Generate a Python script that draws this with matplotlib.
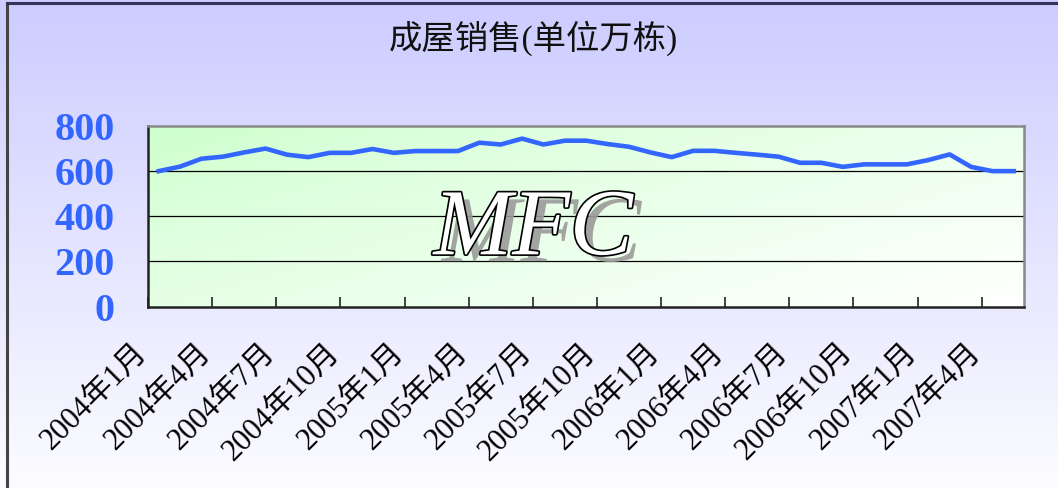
import numpy as np
import matplotlib
matplotlib.use('Agg')
import matplotlib.pyplot as plt
import matplotlib.patheffects as pe
from matplotlib.transforms import ScaledTranslation

plt.rcParams['font.family'] = ['Liberation Serif', 'Noto Sans CJK SC', 'DejaVu Sans']

TITLE = '成屋销售(单位万栋)'

# monthly sales, 2004-01 .. 2007-05
SALES = [600, 620, 655, 664, 683, 700, 673, 662, 681, 681, 698, 681,
         689, 689, 689, 726, 718, 744, 718, 735, 735, 720, 708, 683,
         662, 690, 690, 681, 673, 664, 637, 637, 619, 630, 630, 630,
         649, 674, 619, 600, 600]

TICK_LABELS = ['2004年1月', '2004年4月', '2004年7月', '2004年10月',
               '2005年1月', '2005年4月', '2005年7月', '2005年10月',
               '2006年1月', '2006年4月', '2006年7月', '2006年10月',
               '2007年1月', '2007年4月']

Y_TICKS = [0, 200, 400, 600, 800]

BLUE = '#3366ff'

fig = plt.figure(figsize=(10.58, 4.88), dpi=100)

# background gradient (lavender -> white)
bg = fig.add_axes([0, 0, 1, 1], zorder=-5)
grad = np.linspace(0, 1, 256).reshape(-1, 1)
top = np.array([204, 204, 255]) / 255.0
bot = np.array([252, 252, 255]) / 255.0
img = top + (bot - top) * grad[..., None]
img = img.reshape(256, 1, 3)
bg.imshow(img, aspect='auto', extent=[0, 1, 0, 1], origin='upper')
bg.set_xlim(0, 1)
bg.set_ylim(0, 1)
bg.axis('off')
# outer frame (left + top)
bg.plot([0.0068, 0.0068], [0, 0.994], color='#444444', lw=2.2)
bg.plot([0.0068, 1], [0.994, 0.994], color='#333355', lw=2.2)

ax = fig.add_axes([0.1399, 0.3719, 0.9683 - 0.1399, 0.7418 - 0.3719])

# plot area gradient (light green top-left -> white bottom-right)
n = 200
xx, yy = np.meshgrid(np.linspace(0, 1, n), np.linspace(0, 1, n))
t = np.clip((xx * 0.7 + (1 - yy) * 0.5) / 1.2, 0, 1) ** 0.8
g0 = np.array([204, 255, 204]) / 255.0
g1 = np.array([255, 255, 255]) / 255.0
pimg = g0 + (g1 - g0) * t[..., None]
ax.imshow(pimg, aspect='auto', extent=[0, 1, 0, 1], origin='lower',
          transform=ax.transAxes, zorder=0)

x = np.arange(len(SALES))
ax.plot(x, SALES, color=BLUE, lw=3.3, zorder=3, solid_joinstyle='round')

ax.set_xlim(-0.5, len(SALES) - 0.5)
ax.set_ylim(0, 800)

for v in Y_TICKS[1:-1]:
    ax.axhline(v, color='black', lw=0.9, zorder=1)

ax.set_yticks(Y_TICKS)
ax.set_yticklabels([str(v) for v in Y_TICKS], fontsize=29, fontweight='bold',
                   color=BLUE, family='Liberation Serif')
ax.tick_params(axis='y', length=0, pad=24)

pos = np.arange(0, len(SALES), 3)
ax.set_xticks(pos)
ax.set_xticklabels(TICK_LABELS, rotation=45, ha='right', va='center',
                   rotation_mode='anchor', fontsize=22)
ax.tick_params(axis='x', which='major', length=0, pad=30)
ax.set_xticks(np.arange(-0.5, len(SALES), 3), minor=True)
ax.tick_params(axis='x', which='minor', direction='in', length=7,
               width=1.3, color='#333333')
shift = ScaledTranslation(-0.16, 0, fig.dpi_scale_trans)
for lab in ax.get_xticklabels():
    lab.set_transform(lab.get_transform() + shift)

for s in ['left', 'bottom']:
    ax.spines[s].set_color('#222222')
    ax.spines[s].set_linewidth(1.8)
for s in ['top', 'right']:
    ax.spines[s].set_color('#888888')
    ax.spines[s].set_linewidth(1.8)

fig.text(0.504, 0.922, TITLE, ha='center', va='center', fontsize=24,
         color='#111111')

# MFC watermark: white fill, black outline, grey drop shadow
fig.text(0.504, 0.525, 'MFC', ha='center', va='center', fontsize=68,
         style='italic', family='Liberation Serif', color='white', zorder=5,
         path_effects=[pe.SimplePatchShadow(offset=(6, -5), shadow_rgbFace='#9a9a9a',
                                            alpha=0.9),
                       pe.Stroke(linewidth=2.4, foreground='black'),
                       pe.Normal()])

fig.savefig('out.png', dpi=100)
